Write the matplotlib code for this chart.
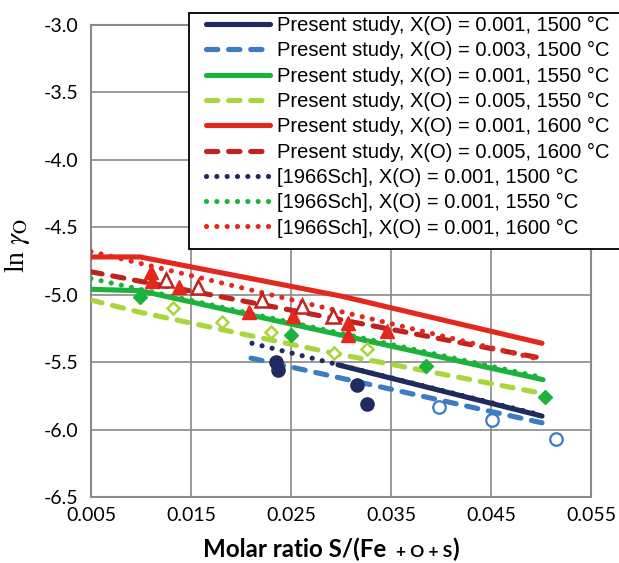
import matplotlib
matplotlib.use("Agg")
import matplotlib.pyplot as plt
from matplotlib.patches import Rectangle

# ---- data ----
# model lines (present study)
ps_1500_001_x = [0.0297, 0.0501]
ps_1500_001_y = [-5.52, -5.90]
ps_1500_003_x = [0.0210, 0.0501]
ps_1500_003_y = [-5.47, -5.95]
ps_1550_001_x = [0.005, 0.0099, 0.0502]
ps_1550_001_y = [-4.96, -4.97, -5.63]
ps_1550_005_x = [0.005, 0.0099, 0.029, 0.050]
ps_1550_005_y = [-5.04, -5.13, -5.43, -5.73]
ps_1600_001_x = [0.005, 0.0099, 0.030, 0.0501]
ps_1600_001_y = [-4.72, -4.72, -5.01, -5.36]
ps_1600_005_x = [0.005, 0.0099, 0.050]
ps_1600_005_y = [-4.83, -4.90, -5.47]

# [1966Sch] lines
sch_1500_x = [0.0211, 0.0499]
sch_1500_y = [-5.36, -5.89]
sch_1550_x = [0.005, 0.0499]
sch_1550_y = [-4.88, -5.61]
sch_1600_x = [0.005, 0.0499]
sch_1600_y = [-4.68, -5.48]

# experimental points
circ_x = [0.0235, 0.0237, 0.0316, 0.0326]
circ_y = [-5.50, -5.56, -5.67, -5.81]
ocirc_x = [0.0398, 0.0451, 0.0515]
ocirc_y = [-5.83, -5.93, -6.07]
dia_x = [0.0099, 0.0250, 0.0385, 0.0504]
dia_y = [-5.02, -5.30, -5.53, -5.76]
odia_x = [0.0132, 0.0181, 0.0230, 0.0293, 0.0326]
odia_y = [-5.10, -5.20, -5.28, -5.43, -5.40]
tri_x = [0.0110, 0.0111, 0.0138, 0.0208, 0.0252, 0.0307, 0.0307, 0.0346]
tri_y = [-4.83, -4.90, -4.94, -5.13, -5.16, -5.21, -5.30, -5.27]
otri_x = [0.0125, 0.0157, 0.0221, 0.0261, 0.0292]
otri_y = [-4.89, -4.94, -5.04, -5.08, -5.16]

xticks = [0.005, 0.015, 0.025, 0.035, 0.045, 0.055]
yticks = [-6.5, -6.0, -5.5, -5.0, -4.5, -4.0, -3.5, -3.0]

labels = ["Present study, X(O) = 0.001, 1500 °C",
          "Present study, X(O) = 0.003, 1500 °C",
          "Present study, X(O) = 0.001, 1550 °C",
          "Present study, X(O) = 0.005, 1550 °C",
          "Present study, X(O) = 0.001, 1600 °C",
          "Present study, X(O) = 0.005, 1600 °C",
          "[1966Sch], X(O) = 0.001, 1500 °C",
          "[1966Sch], X(O) = 0.001, 1550 °C",
          "[1966Sch], X(O) = 0.001, 1600 °C"]

navy = "#1f2a5e"
blue = "#3b7cc4"
green = "#1cb33c"
lgreen = "#a9d63c"
red = "#e3281d"
dred = "#c0231d"

W, H = 619, 563
fig = plt.figure(figsize=(W / 100, H / 100), dpi=100)
ax = fig.add_axes((91 / W, 1 - 497 / H, 500 / W, 472 / H))

lw = 3.7
dash = (0, (2.2, 2.1))
dot = (0, (0.01, 2.0))

def line(x, y, c, ls, lab):
    ax.plot(x, y, color=c, lw=lw, linestyle=ls, label=lab,
            dash_capstyle="round", solid_capstyle="round", zorder=3)

line(ps_1500_001_x, ps_1500_001_y, navy, "-", labels[0])
line(ps_1500_003_x, ps_1500_003_y, blue, dash, labels[1])
line(ps_1550_001_x, ps_1550_001_y, green, "-", labels[2])
line(ps_1550_005_x, ps_1550_005_y, lgreen, dash, labels[3])
line(ps_1600_001_x, ps_1600_001_y, red, "-", labels[4])
line(ps_1600_005_x, ps_1600_005_y, dred, dash, labels[5])
line(sch_1500_x, sch_1500_y, navy, dot, labels[6])
line(sch_1550_x, sch_1550_y, green, dot, labels[7])
line(sch_1600_x, sch_1600_y, red, dot, labels[8])

mk = dict(linestyle="none", zorder=4, clip_on=False)
ax.plot(circ_x, circ_y, marker="o", ms=9.5, color=navy, mec=navy, **mk)
ax.plot(ocirc_x, ocirc_y, marker="o", ms=9, mfc="white", mec=blue, mew=1.6, **mk)
ax.plot(dia_x, dia_y, marker="D", ms=6.8, color=green, mec=green, **mk)
ax.plot(odia_x, odia_y, marker="D", ms=6.5, mfc="white", mec=lgreen, mew=1.8, **mk)
ax.plot(tri_x, tri_y, marker="^", ms=10, color=red, mec=red, **mk)
ax.plot(otri_x, otri_y, marker="^", ms=9.5, mfc="white", mec=dred, mew=1.8, **mk)

ax.set_xlim(0.005, 0.055)
ax.set_ylim(-6.5, -3.0)
ax.set_xticks(xticks)
ax.set_yticks(yticks)
ax.set_xticklabels(["%.3f" % v for v in xticks])
ax.set_yticklabels(["%.1f" % v for v in yticks])
ax.tick_params(length=0, labelsize=14, pad=9)
ax.tick_params(axis="x", pad=7)
for t in ax.get_xticklabels() + ax.get_yticklabels():
    t.set_fontfamily("Lato")
ax.grid(True, color="#8a8a8a", lw=1.2)
ax.set_axisbelow(True)
for s in ax.spines.values():
    s.set_color("#8a8a8a")
    s.set_linewidth(1.5)

# y label
fig.text(17 / W, 1 - 245 / H, r"ln $\gamma_\mathrm{O}$", rotation=90,
         ha="center", va="center", fontsize=20, family="Liberation Serif",
         math_fontfamily="stix")

# x label in pieces ("+ O + S" is set smaller)
fig.text(203 / W, 1 - 557 / H, "Molar ratio S/(Fe", fontsize=17.4,
         family="Lato", weight="bold", va="baseline", ha="left")
fig.text(396 / W, 1 - 557 / H, "+ O + S", fontsize=12.5,
         family="Lato", weight="bold", va="baseline", ha="left")
fig.text(452 / W, 1 - 557 / H, ")", fontsize=17.4,
         family="Lato", weight="bold", va="baseline", ha="left")

# legend box (runs past the right edge of the figure)
fig.patches.append(Rectangle((189 / W, 1 - 249 / H), 440 / W, 236 / H,
                             transform=fig.transFigure, facecolor="white",
                             edgecolor="black", lw=1.3, zorder=5))
leg = fig.legend(loc="upper left", bbox_to_anchor=(206.5 / W, 1 - 16 / H),
                 frameon=False, borderpad=0, borderaxespad=0,
                 handlelength=3.13, handletextpad=0.37, labelspacing=0.31,
                 prop={"family": "Liberation Sans", "size": 14.5})
leg.set_zorder(6)

fig.savefig("out.png", dpi=100)
